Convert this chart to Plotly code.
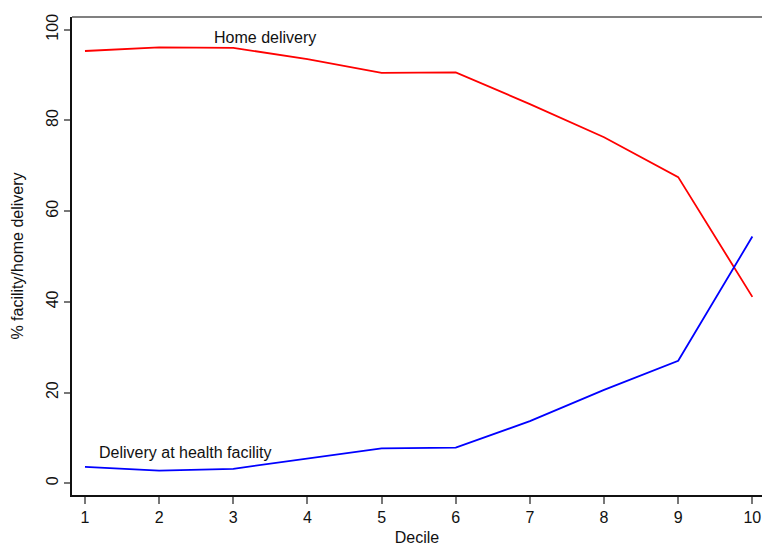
import plotly.graph_objects as go

deciles = [1, 2, 3, 4, 5, 6, 7, 8, 9, 10]
home_delivery = [95.3, 96.1, 96.0, 93.5, 90.5, 90.6, 83.6, 76.3, 67.5, 41.1]
facility_delivery = [3.6, 2.8, 3.2, 5.4, 7.7, 7.85, 13.7, 20.6, 27.0, 54.4]
x_ticks = [1, 2, 3, 4, 5, 6, 7, 8, 9, 10]
y_ticks = [0, 20, 40, 60, 80, 100]

font = "Liberation Sans, Arial, Helvetica, sans-serif"

fig = go.Figure()
fig.add_trace(go.Scatter(x=deciles, y=home_delivery, mode="lines",
                         line=dict(color="#ff0000", width=1.8), showlegend=False))
fig.add_trace(go.Scatter(x=deciles, y=facility_delivery, mode="lines",
                         line=dict(color="#0000ff", width=1.8), showlegend=False))

fig.add_annotation(x=3.43, y=98.2, text="Home delivery", showarrow=False,
                   font=dict(family=font, size=16, color="#111"))
fig.add_annotation(x=2.35, y=6.9, text="Delivery at health facility", showarrow=False,
                   font=dict(family=font, size=16, color="#111"))

fig.add_shape(type="line", xref="paper", yref="paper", x0=0, x1=1, y0=1, y1=1,
              line=dict(color="#808080", width=2))

fig.update_layout(
    width=762, height=546,
    margin=dict(l=72, r=0, t=17, b=51),
    plot_bgcolor="white", paper_bgcolor="white",
    font=dict(family=font, size=16, color="#111"),
    xaxis=dict(range=[0.825, 10.13], tickvals=x_ticks, ticks="outside", ticklen=7,
               tickcolor="#777", tickwidth=1.5, showgrid=False, zeroline=False,
               showline=True, linecolor="#111", linewidth=2,
               title=dict(text="Decile", standoff=8, font=dict(size=16)),
               tickfont=dict(size=16), automargin=False),
    yaxis=dict(range=[-2.58, 102.8], tickvals=y_ticks, ticks="outside", ticklen=6,
               tickcolor="#777", tickwidth=1.5, showgrid=False, zeroline=False,
               showline=True, linecolor="#111", linewidth=2, tickangle=-90,
               title=dict(text="% facility/home delivery", standoff=16, font=dict(size=16)),
               tickfont=dict(size=16), automargin=False),
)

fig.write_html("out.html", config={"displayModeBar": False},
               post_script="document.body.style.margin='0';document.body.style.overflow='hidden';")
